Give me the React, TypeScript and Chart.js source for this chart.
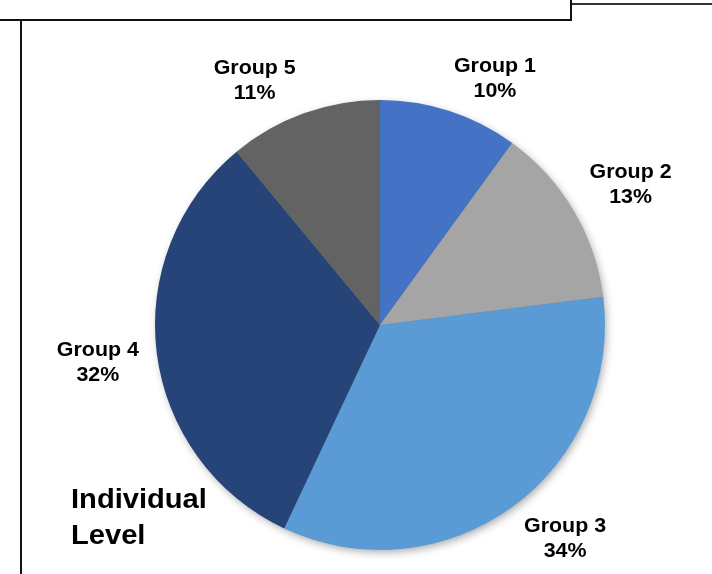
import React, { useEffect, useRef } from "react";
import { Chart, registerables } from "chart.js";

Chart.register(...registerables);

const categories = ["Group 1", "Group 2", "Group 3", "Group 4", "Group 5"];
const shares = [10, 13, 34, 32, 11];
const sliceColors = ["#4472C4", "#A5A5A5", "#5B9BD5", "#264478", "#636363"];
const noteLines = ["Individual", "Level"];

const shadowPlugin = {
  id: "pieShadow",
  beforeDatasetsDraw(chart: any) {
    const meta = chart.getDatasetMeta(0);
    const arc = meta.data[0];
    if (!arc) return;
    const { x, y, outerRadius } = arc.getProps(["x", "y", "outerRadius"], true);
    const ctx = chart.ctx;
    ctx.save();
    ctx.shadowColor = "rgba(0,0,0,0.35)";
    ctx.shadowBlur = 9;
    ctx.shadowOffsetX = 2;
    ctx.shadowOffsetY = 3;
    ctx.beginPath();
    ctx.arc(x, y, outerRadius - 1, 0, Math.PI * 2);
    ctx.fillStyle = "#888";
    ctx.fill();
    ctx.restore();
  },
};

const labelPlugin = {
  id: "sliceLabels",
  afterDatasetsDraw(chart: any) {
    const ctx = chart.ctx;
    const meta = chart.getDatasetMeta(0);
    const data = chart.data.datasets[0].data as number[];
    const total = data.reduce((a, b) => a + b, 0);
    const sx = 1.07;
    ctx.save();
    ctx.font = "bold 20px 'Liberation Sans', Arial, sans-serif";
    ctx.fillStyle = "#000";
    ctx.textAlign = "center";
    ctx.textBaseline = "alphabetic";
    const lineH = 25;
    meta.data.forEach((arc: any, i: number) => {
      const { x, y, startAngle, endAngle, outerRadius } = arc.getProps(
        ["x", "y", "startAngle", "endAngle", "outerRadius"],
        true
      );
      const mid = (startAngle + endAngle) / 2;
      const dx = Math.cos(mid);
      const dy = Math.sin(mid);
      const lines = [
        chart.data.labels[i] as string,
        Math.round((data[i] / total) * 100) + "%",
      ];
      const w = Math.max(...lines.map((l) => ctx.measureText(l).width)) * sx;
      const h = 46;
      const px = x + (outerRadius + 15) * dx;
      const py = y + (outerRadius + 15) * dy;
      const clamp = (v: number) => Math.max(-1, Math.min(1, v));
      const cx = px + (w / 2 + 3) * clamp(3 * dx);
      const cy = py + (h / 2 - 4) * clamp(3 * dy);
      const top = cy - h / 2;
      lines.forEach((l, k) => {
        ctx.save();
        ctx.translate(cx, top + 17 + k * lineH);
        ctx.scale(sx, 1);
        ctx.fillText(l, 0, 0);
        ctx.restore();
      });
    });
    ctx.restore();
  },
};

export default function App() {
  const ref = useRef<HTMLCanvasElement | null>(null);
  useEffect(() => {
    if (!ref.current) return;
    const chart = new Chart(ref.current, {
      type: "pie",
      data: {
        labels: categories,
        datasets: [
          {
            data: shares,
            backgroundColor: sliceColors,
            borderWidth: 0,
          },
        ],
      },
      options: {
        responsive: false,
        animation: false,
        layout: { padding: { top: 100, bottom: 24, left: 155, right: 107 } },
        plugins: {
          legend: { display: false },
          tooltip: { enabled: false },
        },
      },
      plugins: [shadowPlugin, labelPlugin],
    });
    return () => chart.destroy();
  }, []);

  const line = (s: React.CSSProperties): React.CSSProperties => ({
    position: "absolute",
    background: "#111",
    ...s,
  });

  return (
    <div
      style={{
        position: "absolute",
        left: 0,
        top: 0,
        width: 712,
        height: 574,
        background: "#fff",
        overflow: "hidden",
      }}
    >
      <canvas ref={ref} width={712} height={574} style={{ position: "absolute", left: 0, top: 0 }} />
      <div style={line({ left: 0, top: 19, width: 572, height: 2 })} />
      <div style={line({ left: 570, top: 0, width: 2, height: 21 })} />
      <div style={line({ left: 572, top: 3, width: 140, height: 2, background: "#333" })} />
      <div style={line({ left: 20, top: 21, width: 2, height: 553 })} />
      <div
        style={{
          position: "absolute",
          left: 71,
          top: 481,
          fontFamily: "'Liberation Sans', Arial, sans-serif",
          fontWeight: "bold",
          fontSize: 28,
          lineHeight: "36px",
          color: "#000",
          transform: "scaleX(1.04)",
          transformOrigin: "left top",
        }}
      >
        {noteLines.map((t) => (
          <div key={t}>{t}</div>
        ))}
      </div>
    </div>
  );
}
